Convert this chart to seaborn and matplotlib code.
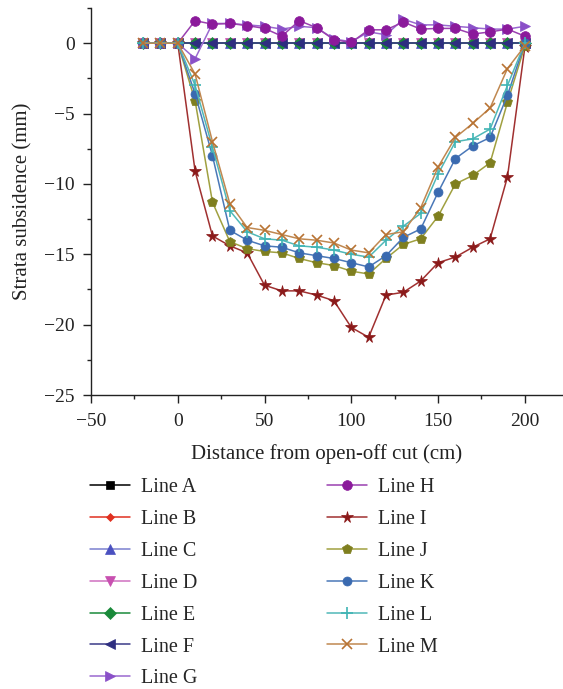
import matplotlib
matplotlib.use("Agg")
import matplotlib.pyplot as plt
from matplotlib.ticker import MultipleLocator
import seaborn as sns
import pandas as pd

# ---- data ----
distance = [-20, -10, 0, 10, 20, 30, 40, 50, 60, 70, 80, 90, 100,
            110, 120, 130, 140, 150, 160, 170, 180, 190, 200]

line_a = [0.0] * 23
line_b = [0.0] * 23
line_c = [0.0] * 23
line_d = [0.0] * 23
line_e = [0.0] * 23
line_f = [0.0] * 23
line_g = [0, 0, 0, -1.1, 1.4, 1.4, 1.3, 1.2, 1.0, 1.2, 1.1, 0.3, 0.1,
          0.8, 0.6, 1.7, 1.3, 1.3, 1.2, 1.1, 1.0, 1.0, 1.2]
line_h = [0, 0, 0, 1.6, 1.35, 1.4, 1.25, 1.05, 0.5, 1.6, 1.1, 0.25, 0.05,
          0.95, 0.95, 1.5, 1.0, 1.05, 1.05, 0.65, 0.8, 1.0, 0.5]
line_i = [0, 0, 0, -9.1, -13.7, -14.4, -14.9, -17.2, -17.6, -17.6, -17.9, -18.3, -20.2,
          -20.9, -17.9, -17.7, -16.9, -15.6, -15.2, -14.5, -13.9, -9.5, -0.3]
line_j = [0, 0, 0, -4.1, -11.3, -14.1, -14.6, -14.8, -14.9, -15.3, -15.6, -15.8, -16.2,
          -16.4, -15.3, -14.3, -13.9, -12.3, -10.0, -9.4, -8.5, -4.2, -0.2]
line_k = [0, 0, 0, -3.6, -8.0, -13.3, -14.0, -14.4, -14.5, -14.9, -15.1, -15.3, -15.6,
          -15.9, -15.1, -13.8, -13.2, -10.6, -8.2, -7.3, -6.7, -3.7, 0.0]
line_l = [0, 0, 0, -3.0, -7.4, -11.9, -13.4, -13.9, -14.0, -14.4, -14.5, -14.7, -15.0,
          -15.2, -14.0, -13.0, -12.1, -9.3, -7.0, -6.8, -6.1, -3.0, 0.0]
line_m = [0, 0, 0, -2.2, -7.0, -11.4, -13.1, -13.3, -13.6, -13.9, -14.0, -14.2, -14.7,
          -14.9, -13.6, -13.4, -11.7, -8.8, -6.7, -5.7, -4.6, -1.8, -0.2]

labels = ["Line A", "Line B", "Line C", "Line D", "Line E", "Line F", "Line G",
          "Line H", "Line I", "Line J", "Line K", "Line L", "Line M"]
series = [line_a, line_b, line_c, line_d, line_e, line_f, line_g,
          line_h, line_i, line_j, line_k, line_l, line_m]

x_ticks = [-50, 0, 50, 100, 150, 200]
y_ticks = [0, -5, -10, -15, -20, -25]

# ---- styles ----
colors = ["#000000", "#E03020", "#4A50C0", "#C850B0", "#1A8A3A", "#2E2E80",
          "#8A50C8", "#8B1A9B", "#8B1A1A", "#7F7F1F", "#3A6AB0", "#40B4B4", "#B87333"]
line_colors = ["#000000", "#E03020", "#7A80D0", "#D070C0", "#1A8A3A", "#3A3A88",
               "#9A68D0", "#9A40B0", "#A03030", "#A0A040", "#4A78B8", "#50B8B8", "#C08850"]
markers = ["s", "D", "^", "v", "D", "<", ">", "o", "*", "p", "o", "+", "x"]
msizes = [6, 4.5, 7.5, 7.5, 6, 6.5, 7.5, 7, 8.5, 7.5, 6.5, 8, 7.5]

sns.set_theme(style="ticks")
plt.rcParams["font.family"] = ["Liberation Serif", "DejaVu Serif"]

fig = plt.figure(figsize=(5.63, 6.89), dpi=100)
ax = fig.add_axes([91 / 563, 1 - 395 / 689, 1 - 91 / 563, (395 - 8) / 689])

rows = []
for lab, vals in zip(labels, series):
    for xv, yv in zip(distance, vals):
        rows.append({"x": xv, "y": yv, "line": lab})
df = pd.DataFrame(rows)

handles = []
for i, lab in enumerate(labels):
    sub = df[df["line"] == lab]
    sns.lineplot(data=sub, x="x", y="y", ax=ax, color=line_colors[i], sort=False,
                 estimator=None, linewidth=1.1, marker=markers[i], markersize=msizes[i],
                 markerfacecolor=colors[i], markeredgecolor=colors[i],
                 markeredgewidth=1.2 if markers[i] in ("+", "x") else 0.5,
                 label=lab, legend=False)
    handles.append(ax.lines[-1])

ax.set_xlim(-50, 222)
ax.set_ylim(-25, 2.5)
ax.set_xticks(x_ticks)
ax.set_yticks(y_ticks)
ax.xaxis.set_minor_locator(MultipleLocator(25))
ax.yaxis.set_minor_locator(MultipleLocator(2.5))
ax.set_xticklabels(["\u221250", "0", "50", "100", "150", "200"])
ax.set_yticklabels(["0", "\u22125", "\u221210", "\u221215", "\u221220", "\u221225"])
ax.tick_params(axis="both", which="major", direction="out", length=5.8, width=1,
               labelsize=14, color="#222222", labelcolor="#222222")
ax.tick_params(axis="x", which="major", pad=7)
ax.tick_params(axis="y", which="major", pad=6)
ax.tick_params(axis="both", which="minor", direction="out", length=3, width=1,
               color="#222222")
for s in ["top", "right"]:
    ax.spines[s].set_visible(False)
for s in ["left", "bottom"]:
    ax.spines[s].set_color("#222222")
    ax.spines[s].set_linewidth(1.0)
ax.set_xlabel("Distance from open-off cut (cm)", fontsize=15, color="#222222", labelpad=10)
ax.set_ylabel("Strata subsidence (mm)", fontsize=15, color="#222222", labelpad=8)

# legend, column-major order (A-G, H-M)
fig.legend(handles=handles, labels=labels, ncol=2, loc="upper left",
           bbox_to_anchor=(90 / 563, 1 - 478 / 689), frameon=False,
           fontsize=14.5, handlelength=2.0, handletextpad=0.55,
           columnspacing=6.4, labelspacing=0.635, numpoints=1,
           borderaxespad=0, borderpad=0)

fig.savefig("out.png", dpi=100)
